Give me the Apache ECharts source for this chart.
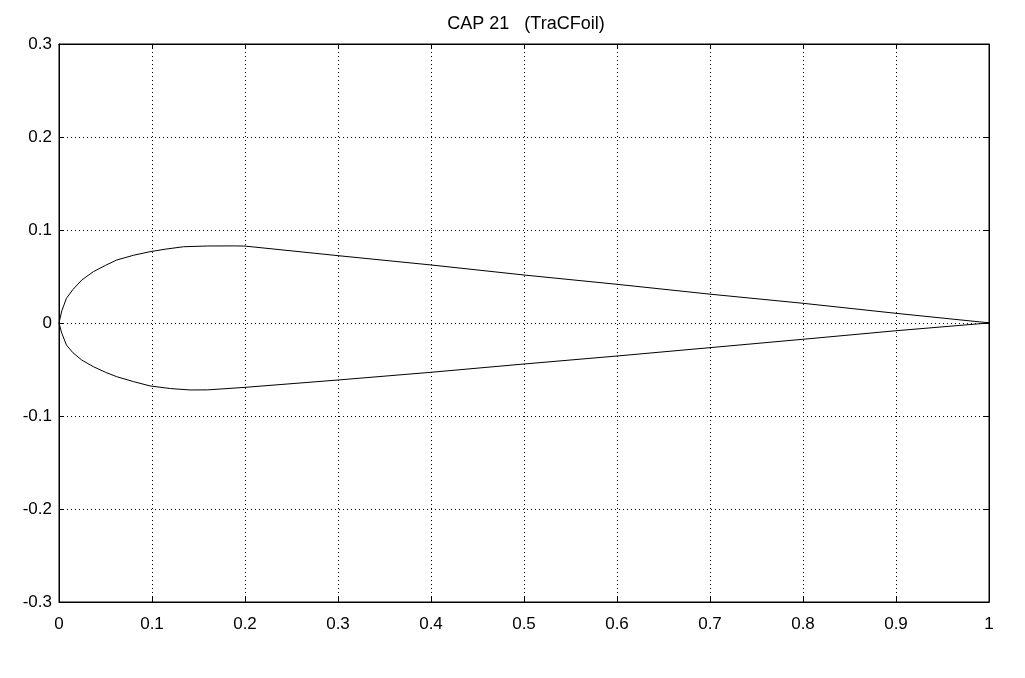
<!DOCTYPE html>
<html>
<head>
<meta charset="utf-8">
<script src="https://cdn.jsdelivr.net/npm/echarts@6/dist/echarts.min.js"></script>
<style>html,body{margin:0;padding:0;background:#fff}#c{width:1025px;height:678px}</style>
</head>
<body>
<div id="c"></div>
<script>
var titleText = 'CAP 21   (TraCFoil)';
var xTicks = [0, 0.1, 0.2, 0.3, 0.4, 0.5, 0.6, 0.7, 0.8, 0.9, 1];
var yTicks = [-0.3, -0.2, -0.1, 0, 0.1, 0.2, 0.3];
var upperX = [1.0, 0.99, 0.9, 0.8, 0.7, 0.6, 0.5, 0.4, 0.3, 0.2, 0.19, 0.16, 0.134, 0.115, 0.098, 0.08, 0.062, 0.05, 0.037, 0.0244, 0.015, 0.008, 0.003, 0];
var upperY = [0.0003, 0.0012, 0.0104, 0.0212, 0.031, 0.0416, 0.0516, 0.0624, 0.0724, 0.0827, 0.0829, 0.0828, 0.082, 0.0795, 0.0767, 0.0728, 0.0677, 0.062, 0.0552, 0.0462, 0.036, 0.0266, 0.013, 0];
var lowerX = [0.003, 0.008, 0.015, 0.0244, 0.037, 0.05, 0.062, 0.08, 0.098, 0.12, 0.141, 0.16, 0.2, 0.3, 0.4, 0.5, 0.6, 0.7, 0.8, 0.9, 0.99, 1.0];
var lowerY = [-0.011, -0.0237, -0.032, -0.0398, -0.047, -0.053, -0.0577, -0.063, -0.0677, -0.0705, -0.072, -0.0719, -0.0692, -0.0613, -0.053, -0.0441, -0.0355, -0.0265, -0.0175, -0.0083, -0.0008, -0.0001];

var pts = [];
upperX.forEach(function (x, i) { pts.push([x, upperY[i]]); });
lowerX.forEach(function (x, i) { pts.push([x, lowerY[i]]); });

var font = 'Liberation Sans, Arial, sans-serif';
function fmt(v) { return String(Math.round(v * 10) / 10); }

var chart = echarts.init(document.getElementById('c'));
chart.setOption({
  backgroundColor: '#fff',
  animation: false,
  title: {
    text: titleText, left: 521, top: 10, textAlign: 'center',
    textStyle: { fontFamily: font, fontSize: 18, fontWeight: 'normal', color: '#000' }
  },
  grid: { left: 59, right: 36, top: 44, bottom: 76, show: true, borderColor: '#000', borderWidth: 1 },
  xAxis: [{
    type: 'value', min: 0, max: 1, interval: 0.1,
    axisLine: { show: true, onZero: false, lineStyle: { color: '#000', width: 1 } },
    axisTick: { show: true, inside: true, length: 5, lineStyle: { color: '#000' } },
    axisLabel: { color: '#000', fontFamily: font, fontSize: 17, margin: 14, formatter: fmt },
    splitLine: { show: true, lineStyle: { color: '#000', type: [1, 3], width: 1 } }
  }, {
    type: 'value', min: 0, max: 1, interval: 0.1, position: 'top',
    axisLine: { show: true, onZero: false, lineStyle: { color: '#000', width: 1 } },
    axisTick: { show: true, inside: true, length: 5, lineStyle: { color: '#000' } },
    axisLabel: { show: false }, splitLine: { show: false }
  }],
  yAxis: [{
    type: 'value', min: -0.3, max: 0.3, interval: 0.1,
    axisLine: { show: true, onZero: false, lineStyle: { color: '#000', width: 1 } },
    axisTick: { show: true, inside: true, length: 5, lineStyle: { color: '#000' } },
    axisLabel: { color: '#000', fontFamily: font, fontSize: 17, margin: 7, formatter: fmt },
    splitLine: { show: true, lineStyle: { color: '#000', type: [1, 3], width: 1 } }
  }, {
    type: 'value', min: -0.3, max: 0.3, interval: 0.1, position: 'right',
    axisLine: { show: true, onZero: false, lineStyle: { color: '#000', width: 1 } },
    axisTick: { show: true, inside: true, length: 5, lineStyle: { color: '#000' } },
    axisLabel: { show: false }, splitLine: { show: false }
  }],
  series: [{
    type: 'line', data: pts, showSymbol: false, symbol: 'none', smooth: false,
    lineStyle: { color: '#000', width: 1 }, xAxisIndex: 0, yAxisIndex: 0
  }]
});
</script>
</body>
</html>
